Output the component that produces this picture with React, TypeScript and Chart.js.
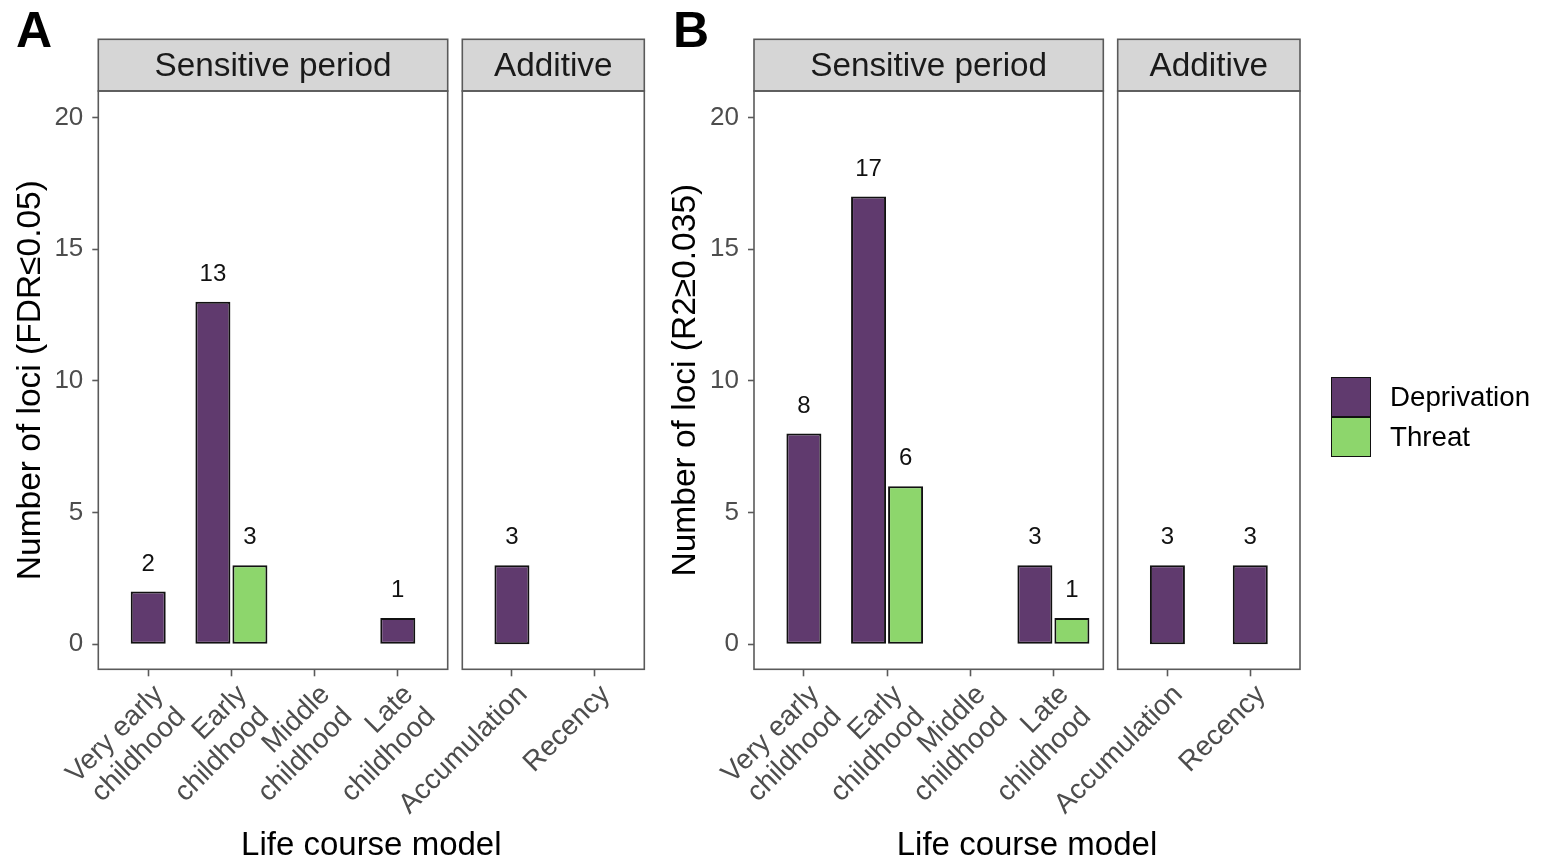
import React, { useEffect, useRef } from 'react';
import { Chart, registerables } from 'chart.js';

Chart.register(...registerables);

// ---------------- data ----------------
const sensitiveCategories: string[][] = [
  ['Very early', 'childhood'],
  ['Early', 'childhood'],
  ['Middle', 'childhood'],
  ['Late', 'childhood'],
];
const additiveCategories: string[][] = [['Accumulation'], ['Recency']];
const seriesNames = ['Deprivation', 'Threat'];

const panelA_sensitive_deprivation = [2, 13, null, 1];
const panelA_sensitive_threat = [null, 3, null, null];
const panelA_additive_deprivation = [3, null];
const panelA_additive_threat = [null, null];

const panelB_sensitive_deprivation = [8, 17, null, 3];
const panelB_sensitive_threat = [null, 6, null, 1];
const panelB_additive_deprivation = [3, 3];
const panelB_additive_threat = [null, null];

const yTickValues = [0, 5, 10, 15, 20];
const stripLabels = ['Sensitive period', 'Additive'];
const yTitles = ['Number of loci (FDR\u22640.05)', 'Number of loci (R2\u22650.035)'];
const xTitle = 'Life course model';
const panelLetters = ['A', 'B'];

// ---------------- style ----------------
const FONT = "'Liberation Sans', Arial, Helvetica, sans-serif";
const seriesColors = ['#603A6E', '#8DD66C'];
const W = 1541;
const H = 861;
const PLOT_TOP = 91;
const PLOT_BOTTOM = 669.3;
const STRIP_H = 51.7;
const XAXIS_H = 150;
const YAXIS_W = 98.3;
const LINE = '#5a5a5a';

const stripPlugin = {
  id: 'facetStrip',
  afterDraw(chart: any, _args: any, opts: any) {
    const { ctx, chartArea } = chart;
    const { left, right, top, bottom } = chartArea;
    ctx.save();
    ctx.fillStyle = '#D6D6D6';
    ctx.fillRect(left, top - STRIP_H, right - left, STRIP_H);
    ctx.lineWidth = 1.6;
    ctx.strokeStyle = LINE;
    ctx.strokeRect(left, top - STRIP_H, right - left, STRIP_H);
    ctx.fillStyle = '#1A1A1A';
    ctx.font = `33.3px ${FONT}`;
    ctx.textAlign = 'center';
    ctx.textBaseline = 'middle';
    ctx.fillText(opts.text, (left + right) / 2, top - STRIP_H / 2 + 2);
    ctx.strokeRect(left, top, right - left, bottom - top);
    ctx.restore();
  },
};

const valueLabelPlugin = {
  id: 'valueLabels',
  afterDatasetsDraw(chart: any) {
    const { ctx } = chart;
    ctx.save();
    ctx.fillStyle = '#111';
    ctx.font = `24px ${FONT}`;
    ctx.textAlign = 'center';
    ctx.textBaseline = 'middle';
    chart.data.datasets.forEach((ds: any, di: number) => {
      const meta = chart.getDatasetMeta(di);
      meta.data.forEach((el: any, i: number) => {
        const v = ds.data[i].y;
        if (v === null || v === undefined) return;
        ctx.fillText(String(v), el.x, el.y - 27.5);
      });
    });
    ctx.restore();
  },
};

type FacetCfg = {
  categories: string[][];
  dep: (number | null)[];
  thr: (number | null)[];
  plotLeft: number;
  plotRight: number;
  yTitle?: string;
  strip: string;
};

function makeFacet(canvas: HTMLCanvasElement, cfg: FacetCfg) {
  const { categories, dep, thr, plotLeft, plotRight, yTitle, strip } = cfg;
  const hasY = !!yTitle;
  const padLeft = hasY ? plotLeft - YAXIS_W : plotLeft;
  const toPoints = (arr: (number | null)[]) => arr.map((v, i) => ({ x: i + 1, y: v }));
  const barCommon = {
    borderColor: '#111111',
    borderWidth: 2,
    borderSkipped: false,
    skipNull: true,
    categoryPercentage: 0.89,
    barPercentage: 0.946,
    maxBarThickness: 35,
  };
  return new Chart(canvas, {
    type: 'bar',
    data: {
      datasets: [
        { label: seriesNames[0], data: toPoints(dep), backgroundColor: seriesColors[0], ...barCommon },
        { label: seriesNames[1], data: toPoints(thr), backgroundColor: seriesColors[1], ...barCommon },
      ] as any,
    },
    options: {
      responsive: false,
      animation: false,
      events: [],
      layout: {
        padding: {
          left: padLeft,
          right: W - plotRight,
          top: PLOT_TOP,
          bottom: H - PLOT_BOTTOM - XAXIS_H,
        },
      },
      plugins: {
        legend: { display: false },
        tooltip: { enabled: false },
        facetStrip: { text: strip },
      } as any,
      scales: {
        x: {
          type: 'linear',
          offset: false,
          bounds: 'data',
          min: 0.4,
          max: categories.length + 0.6,
          afterBuildTicks: (s: any) => {
            s.ticks = categories.map((_, i) => ({ value: i + 1 }));
          },
          afterFit: (s: any) => {
            s.height = XAXIS_H;
            s.paddingLeft = 0;
            s.paddingRight = 0;
          },
          grid: {
            offset: false,
            drawOnChartArea: false,
            drawTicks: true,
            tickLength: 7,
            tickColor: LINE,
            tickWidth: 1.6,
          },
          border: { display: false },
          ticks: {
            autoSkip: false,
            minRotation: 45,
            maxRotation: 45,
            padding: 3,
            labelOffset: 11,
            color: '#4D4D4D',
            font: { family: FONT, size: 28, lineHeight: 1.12 },
            callback: (v: any) => categories[Math.round(v) - 1],
          },
        },
        y: {
          display: hasY,
          min: -0.95,
          max: 21,
          afterBuildTicks: (s: any) => {
            s.ticks = yTickValues.map((v) => ({ value: v }));
          },
          afterFit: (s: any) => {
            if (hasY) s.width = YAXIS_W;
          },
          grid: {
            drawOnChartArea: false,
            drawTicks: true,
            tickLength: 6,
            tickColor: LINE,
            tickWidth: 1.6,
          },
          border: { display: false },
          ticks: {
            padding: 9,
            color: '#4D4D4D',
            font: { family: FONT, size: 26 },
          },
          title: {
            display: hasY,
            text: yTitle || '',
            color: '#000',
            font: { family: FONT, size: 33.5 },
            padding: { top: 10.3, bottom: 0 },
          },
        },
      },
    } as any,
    plugins: [stripPlugin, valueLabelPlugin],
  });
}

const facets: FacetCfg[] = [
  {
    categories: sensitiveCategories,
    dep: panelA_sensitive_deprivation,
    thr: panelA_sensitive_threat,
    plotLeft: 98.3,
    plotRight: 447.7,
    yTitle: yTitles[0],
    strip: stripLabels[0],
  },
  {
    categories: additiveCategories,
    dep: panelA_additive_deprivation,
    thr: panelA_additive_threat,
    plotLeft: 462.3,
    plotRight: 644.3,
    strip: stripLabels[1],
  },
  {
    categories: sensitiveCategories,
    dep: panelB_sensitive_deprivation,
    thr: panelB_sensitive_threat,
    plotLeft: 754,
    plotRight: 1103.3,
    yTitle: yTitles[1],
    strip: stripLabels[0],
  },
  {
    categories: additiveCategories,
    dep: panelB_additive_deprivation,
    thr: panelB_additive_threat,
    plotLeft: 1117.7,
    plotRight: 1300,
    strip: stripLabels[1],
  },
];

function Text({
  x,
  baseline,
  size,
  children,
  bold,
  center,
  color = '#000',
}: {
  x: number;
  baseline: number;
  size: number;
  children: React.ReactNode;
  bold?: boolean;
  center?: boolean;
  color?: string;
}) {
  return (
    <div
      style={{
        position: 'absolute',
        left: x,
        top: baseline - 0.8465 * size,
        fontFamily: FONT,
        fontSize: size,
        lineHeight: `${size}px`,
        fontWeight: bold ? 'bold' : 'normal',
        whiteSpace: 'nowrap',
        color,
        transform: center ? 'translateX(-50%)' : undefined,
      }}
    >
      {children}
    </div>
  );
}

export default function App() {
  const refs = [
    useRef<HTMLCanvasElement>(null),
    useRef<HTMLCanvasElement>(null),
    useRef<HTMLCanvasElement>(null),
    useRef<HTMLCanvasElement>(null),
  ];

  useEffect(() => {
    const charts = facets.map((f, i) => makeFacet(refs[i].current as HTMLCanvasElement, f));
    return () => charts.forEach((c) => c.destroy());
  }, []);

  return (
    <div
      style={{
        position: 'absolute',
        left: 0,
        top: 0,
        width: W,
        height: H,
        background: '#fff',
        overflow: 'hidden',
      }}
    >
      {refs.map((r, i) => (
        <canvas
          key={i}
          ref={r}
          width={W}
          height={H}
          style={{ position: 'absolute', left: 0, top: 0, width: W, height: H }}
        />
      ))}
      <Text x={16} baseline={47} size={50} bold>
        {panelLetters[0]}
      </Text>
      <Text x={673} baseline={47} size={50} bold>
        {panelLetters[1]}
      </Text>
      <Text x={371.3} baseline={855} size={33} center>
        {xTitle}
      </Text>
      <Text x={1027} baseline={855} size={33} center>
        {xTitle}
      </Text>
      {seriesNames.map((name, i) => (
        <React.Fragment key={name}>
          <div
            style={{
              position: 'absolute',
              left: 1331,
              top: 377 + i * 40,
              width: 40,
              height: 40,
              boxSizing: 'border-box',
              background: seriesColors[i],
              border: '1.5px solid #111',
            }}
          />
          <Text x={1390} baseline={406.7 + i * 40} size={27.7}>
            {name}
          </Text>
        </React.Fragment>
      ))}
    </div>
  );
}
